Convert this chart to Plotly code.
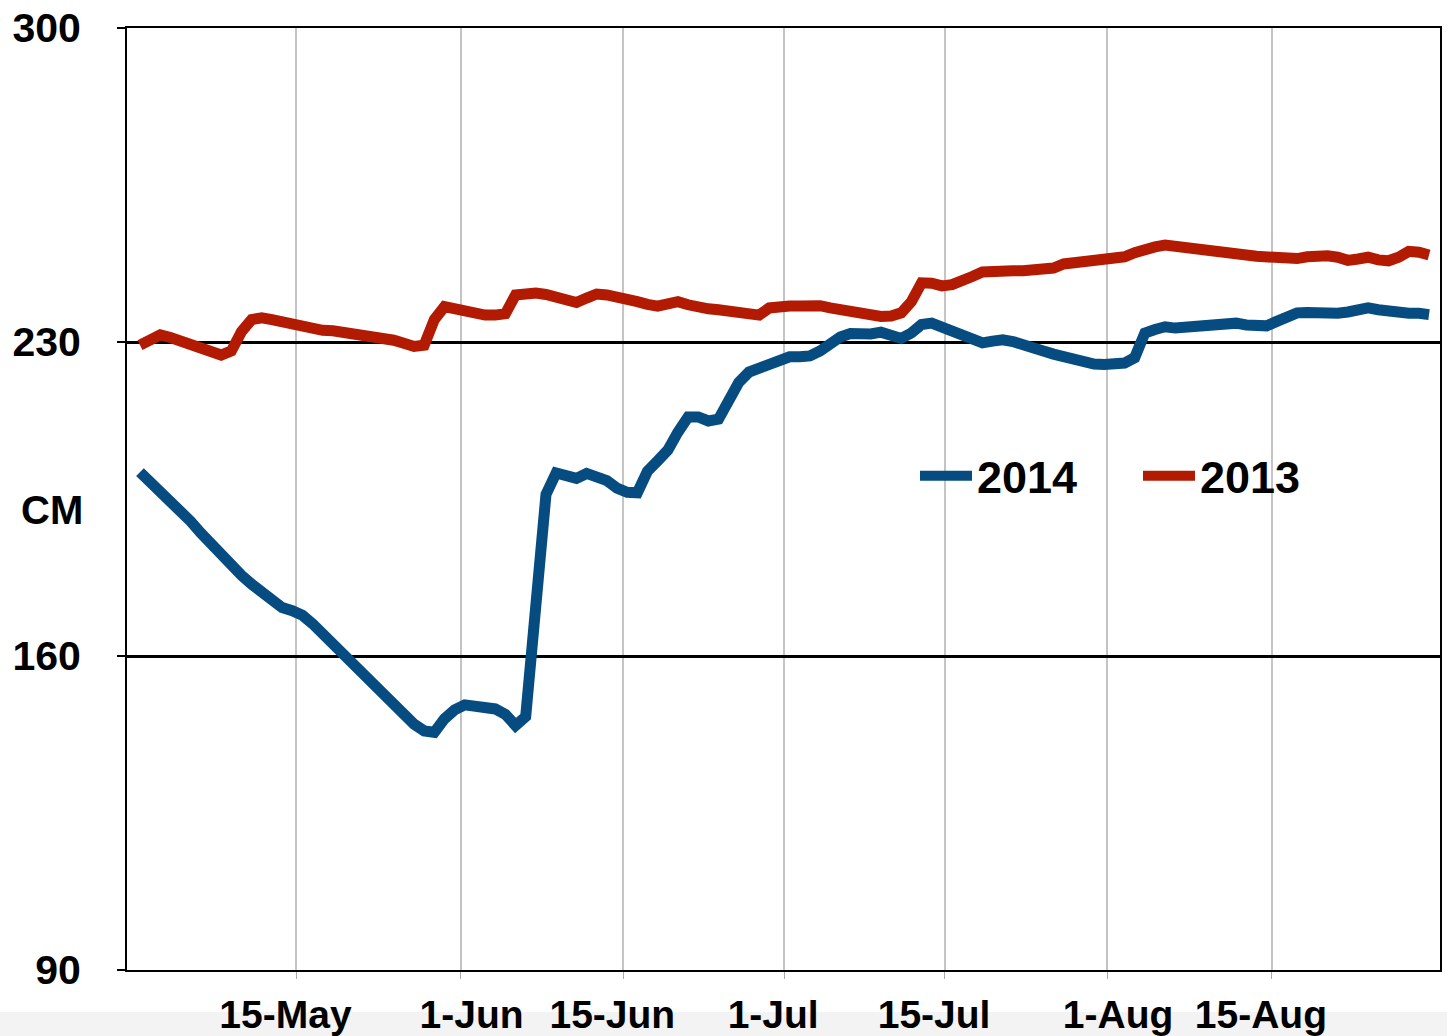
import plotly.graph_objects as go

# ---- data (daily readings, index 0 = first day shown) ----
series_2014 = [
    201.0, 198.8, 196.6, 194.9, 192.6, 190.0, 187.4, 184.9, 182.5, 180.1,
    178.0, 176.0, 174.0, 172.4, 170.8, 170.1, 169.1, 167.2, 164.9, 162.7,
    160.5, 158.3, 156.2, 153.8, 151.4, 149.1, 146.9, 144.8, 143.3, 143.0,
    146.0, 148.0, 149.1, 148.6, 148.3, 148.2, 147.0, 144.5, 146.5, 170.0,
    196.0, 200.8, 200.2, 199.6, 200.7, 200.2, 199.1, 197.4, 196.5, 196.4,
    201.2, 203.5, 205.9, 209.9, 213.3, 213.3, 212.4, 212.8, 217.5, 221.0,
    223.3, 224.3, 225.2, 226.3, 226.7, 226.7, 226.9, 228.0, 229.7, 231.1,
    231.9, 231.7, 231.8, 232.2, 231.5, 230.8, 232.0, 233.9, 234.2, 233.3,
    232.4, 231.8, 231.0, 229.8, 230.2, 230.5, 230.1, 229.6, 228.8, 228.0,
    227.3, 226.6, 225.9, 225.4, 225.1, 225.0, 225.0, 225.3, 226.5, 232.0,
    232.8, 233.4, 233.1, 233.3, 233.8, 233.5, 234.3, 234.4, 234.2, 233.8,
    233.4, 233.6, 234.6, 235.6, 236.5, 236.6, 236.4, 236.4, 236.4, 236.7,
    237.1, 237.6, 237.2, 236.8, 236.5, 236.4, 236.4, 236.1,
]

series_2013 = [
    229.3, 230.5, 231.6, 231.0, 230.2, 229.4, 228.6, 227.8, 227.1, 228.0,
    232.3, 235.0, 235.4, 235.0, 234.4, 233.8, 233.2, 232.7, 232.6, 232.5,
    232.2, 231.9, 231.6, 231.4, 231.0, 230.4, 229.7, 229.0, 229.3, 235.0,
    237.9, 237.4, 236.8, 236.1, 236.0, 236.0, 236.3, 240.5, 241.0, 240.9,
    240.6, 240.0, 239.2, 238.8, 239.8, 240.7, 240.5, 239.8, 239.3, 239.0,
    238.4, 238.0, 238.5, 239.0, 238.3, 237.6, 237.4, 237.2, 236.9, 236.5,
    235.8, 236.0, 237.6, 238.1, 238.0, 238.0, 238.1, 238.1, 237.6, 237.2,
    236.8, 236.2, 235.6, 235.7, 235.8, 236.5, 239.0, 243.2, 243.1, 242.5,
    242.8, 243.4, 244.6, 245.6, 245.9, 245.9, 245.9, 245.9, 245.9, 245.9,
    246.5, 247.4, 247.6, 247.8, 248.2, 248.6, 248.8, 249.0, 249.9, 250.7,
    251.2, 251.6, 251.4, 251.1, 250.8, 250.5, 250.2, 250.0, 249.7, 249.4,
    249.1, 248.9, 248.9, 248.7, 248.6, 249.0, 249.3, 249.2, 248.9, 248.2,
    248.5, 248.9, 248.3, 248.1, 248.9, 250.2, 250.0, 249.4,
]

day_index = list(range(len(series_2014)))

x_tick_labels = ["15-May  ", "  1-Jun", "15-Jun  ", "1-Jul  ", "15-Jul  ", "  1-Aug", "15-Aug  "]
y_tick_values = [90, 160, 230, 300]

BLUE = "#064c80"
RED = "#b21a02"
FONT = "Liberation Sans, Arial, Helvetica, sans-serif"

# figure geometry (page body margin is removed by post_script)
W, H = 1447, 1036
ML, MR, MT, MB = 127, 7, 28, 66
PW = W - ML - MR
PH = H - MT - MB


def px_x(sx):
    return (sx - ML) / PW


def px_y(sy):
    return (H - MB - sy) / PH


fig = go.Figure()
fig.add_trace(go.Scatter(
    x=day_index, y=series_2014, mode="lines", name="2014",
    line=dict(color=BLUE, width=11),
))
fig.add_trace(go.Scatter(
    x=day_index, y=series_2013, mode="lines", name="2013",
    line=dict(color=RED, width=11),
))

fig.update_layout(
    width=W, height=H,
    margin=dict(l=ML, r=MR, t=MT, b=MB, autoexpand=False),
    paper_bgcolor="white", plot_bgcolor="white",
    font=dict(family=FONT, color="black"),
    showlegend=True,
    legend=dict(
        orientation="h",
        x=px_x(915), xanchor="left",
        y=px_y(476), yanchor="middle",
        bgcolor="rgba(0,0,0,0)",
        font=dict(family=FONT, size=45, weight="bold", color="black"),
        entrywidth=156,
        itemwidth=52,
    ),
    shapes=[dict(
        type="rect", xref="paper", yref="paper",
        x0=-0.1, x1=1.01, y0=px_y(1012), y1=px_y(1040),
        fillcolor="#f3f3f3", line=dict(width=0), layer="below",
    )],
    annotations=[dict(
        text="CM", xref="paper", yref="paper",
        x=px_x(85), xanchor="right",
        y=px_y(510), yanchor="middle",
        showarrow=False,
        font=dict(family=FONT, size=40, weight="bold", color="black"),
    )],
)

fig.update_xaxes(
    range=[-1.28, 128.08],
    tickmode="array",
    tickvals=[15.4, 31.6, 47.6, 63.45, 79.3, 95.3, 111.5],
    ticktext=x_tick_labels,
    showgrid=True, gridcolor="#c4c4c4", gridwidth=2,
    ticks="outside", ticklen=7, tickwidth=1, tickcolor="#aaaaaa",
    showline=True, linecolor="black", linewidth=2, mirror=True,
    tickfont=dict(family=FONT, size=39, weight="bold", color="black"),
    ticklabelstandoff=2,
    ticklabeloverflow="allow",
    zeroline=False, automargin=False,
)

fig.update_yaxes(
    range=[90, 300],
    tickmode="array",
    tickvals=y_tick_values,
    showgrid=True, gridcolor="black", gridwidth=3,
    ticks="outside", ticklen=8, tickwidth=2, tickcolor="black",
    showline=True, linecolor="black", linewidth=2, mirror=True,
    tickfont=dict(family=FONT, size=41, weight="bold", color="black"),
    ticklabelstandoff=28,
    ticklabeloverflow="allow",
    zeroline=False, automargin=False,
)

fig.write_html(
    "out.html",
    config={"displayModeBar": False},
    post_script="document.body.style.margin='0';document.body.style.overflow='hidden';",
)
